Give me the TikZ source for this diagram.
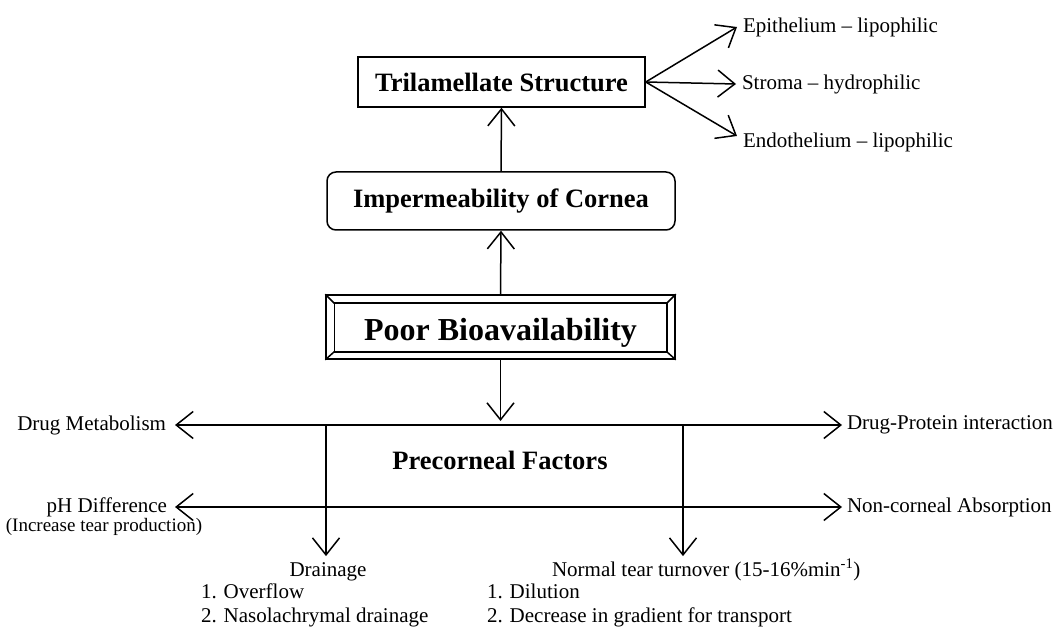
\documentclass[tikz,border=0pt]{standalone}
\usepackage{fontspec}
\setmainfont{Liberation Serif}
\usetikzlibrary{arrows.meta,calc}
\begin{document}
\begin{tikzpicture}[x=1pt,y=-1pt, line width=1.5pt,
  txt/.style={inner sep=0pt, outer sep=0pt, font=\fontsize{21}{25}\selectfont},
  title/.style={inner sep=0pt, font=\fontsize{26.5}{30}\selectfont\bfseries},
  conn/.style={-{Straight Barb[length=17pt,width=27pt]}},
  conn2/.style={{Straight Barb[length=17pt,width=27pt]}-{Straight Barb[length=17pt,width=27pt]}},
]
\useasboundingbox (0,0) rectangle (1060,628);

% boxes
\node[title, draw, minimum width=287pt, minimum height=50pt] (tri) at (501.5,82) {Trilamellate Structure};
\node[title, draw, rounded corners=9pt, minimum width=348pt, minimum height=58pt] (imp) at (501,201) {Impermeability of Cornea};
\node[draw, inner sep=0pt, font=\fontsize{32}{36}\selectfont\bfseries, minimum width=349pt, minimum height=64pt,
      text height=26pt, text depth=0pt] (poor) at (500.5,327) {Poor Bioavailability};
\draw ($(poor.north west)+(9,9)$) rectangle ($(poor.south east)+(-9,-8)$);
\draw (poor.north west) -- ++(9,9);
\draw (poor.north east) -- ++(-9,9);
\draw (poor.south west) -- ++(9,-8);
\draw (poor.south east) -- ++(-9,-8);

\draw[conn] (imp.north) -- (tri.south);
\draw[conn] (poor.north) -- (imp.south);

% trilamellate layers
\node[txt, outer sep=6pt, anchor=west] (epi) at (737,27) {Epithelium – lipophilic};
\node[txt, outer sep=6pt, anchor=west] (str) at (736,84) {Stroma – hydrophilic};
\node[txt, outer sep=6pt, anchor=west] (endo) at (737,142) {Endothelium – lipophilic};
\draw[conn] (tri.east) -- (epi.west);
\draw[conn] (tri.east) -- (str.west);
\draw[conn] (tri.east) -- ([yshift=6pt]endo.west);

% precorneal factors
\coordinate (hub) at (500,421);
\draw[conn] (poor.south) -- (poor.south |- hub);

\node[txt, outer sep=9pt, anchor=east] (dm) at (175,425) {Drug Metabolism};
\node[txt, outer sep=5pt, anchor=west] (dp) at (842,425) {Drug-Protein interaction};
\draw[conn2] (dm.east) -- (dp.west);

\node[txt, outer sep=8pt, anchor=east] (ph) at (175,507) {pH Difference};
\node[txt, font=\fontsize{19}{22}\selectfont] (inc) at (104,527) {(Increase tear production)};
\node[txt, outer sep=5pt, anchor=west] (nc) at (842,507) {Non-corneal Absorption};
\draw[conn2] (ph.east) -- (nc.west);

\node[title, anchor=base] (pf) at (500,469) {Precorneal Factors};

\node[txt, anchor=base] (dr) at (328,576) {Drainage};
\node[txt, anchor=base west] (dr1) at (201,598) {1. Overflow};
\node[txt, anchor=base west] (dr2) at (201,622) {2. Nasolachrymal drainage};
\node[txt, anchor=base west] (nt) at (552,576) {Normal tear turnover (15-16\%min\textsuperscript{-1})};
\node[txt, anchor=base west] (nt1) at (487,598) {1. Dilution};
\node[txt, anchor=base west] (nt2) at (487,622) {2. Decrease in gradient for transport};

\coordinate (v1) at (326,425);
\coordinate (v2) at (683,425);
\draw[conn, shorten >=6pt] (v1) -- (v1 |- dr.north);
\draw[conn, shorten >=6pt] (v2) -- (v2 |- dr.north);
\end{tikzpicture}
\end{document}
